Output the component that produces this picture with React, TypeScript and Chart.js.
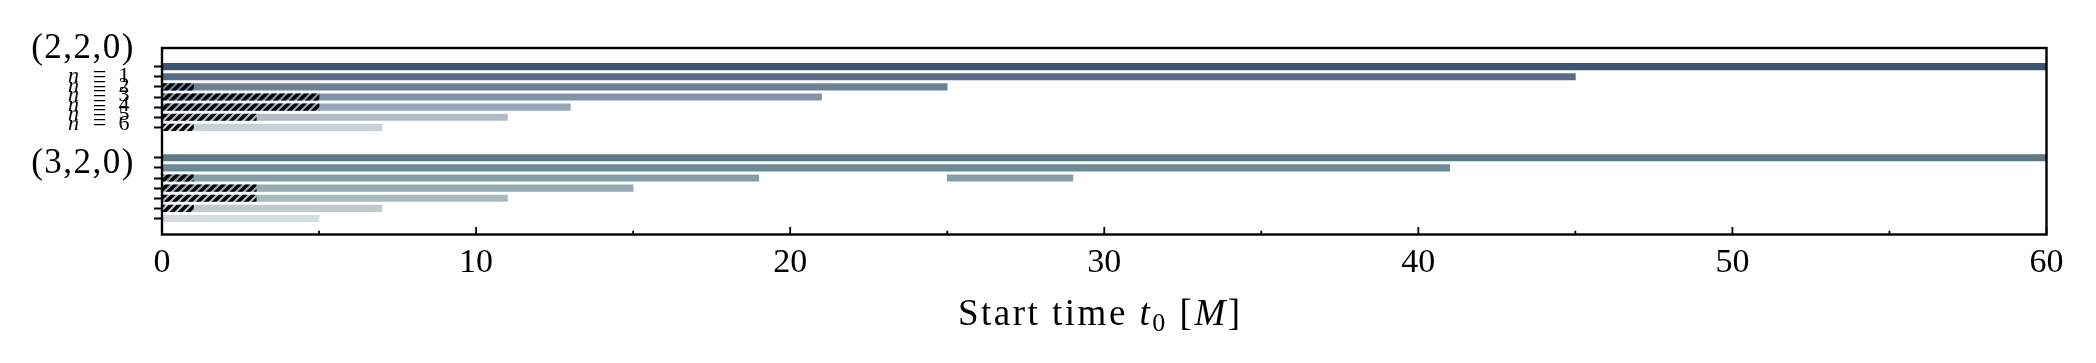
import React, { useEffect, useRef } from 'react';
import { Chart, registerables } from 'chart.js';

Chart.register(...registerables);

// ---- data ----
const GROUP_LABELS = ['(2,2,0)', '(3,2,0)'];
const GROUP_LABEL_Y = [-0.82, 10.54];
const N_LABELS = ['1', '2', '3', '4', '5', '6'];
const ROWS_220 = [0, 1, 2, 3, 4, 5, 6];
const ROWS_320 = [9, 10, 11, 12, 13, 14, 15];
const END_220 = [60, 45, 25, 21, 13, 11, 7];
const HATCH_220 = [0, 0, 1, 5, 5, 3, 1];
const END_320 = [60, 41, 19, 15, 11, 7, 5];
const HATCH_320 = [0, 0, 1, 3, 3, 1, 0];
const EXTRA_ROWS = [11];
const EXTRA_START = [25];
const EXTRA_END = [29];
const X_TICKS = [0, 10, 20, 30, 40, 50, 60];
const X_MINOR = [5, 15, 25, 35, 45, 55];

// ---- styles ----
const COLORS_220 = ['#3c556f', '#556c84', '#6c8197', '#8193a6', '#98a6b5', '#b1bbc6', '#c8d0d8'];
const COLORS_320 = ['#5b7a86', '#6c8a95', '#859da6', '#96abb1', '#a9babe', '#bfcacd', '#d3dddd'];
const FONT = 'Liberation Serif';

function makeHatch(): CanvasPattern | string {
  const c = document.createElement('canvas');
  c.width = 8;
  c.height = 8;
  const g = c.getContext('2d');
  if (!g) return '#000';
  g.strokeStyle = '#000';
  g.lineWidth = 3.4;
  g.lineCap = 'square';
  g.beginPath();
  g.moveTo(0, 8); g.lineTo(8, 0);
  g.moveTo(-4, 4); g.lineTo(4, -4);
  g.moveTo(4, 12); g.lineTo(12, 4);
  g.stroke();
  const p = g.createPattern(c, 'repeat');
  return p || '#000';
}

const decorPlugin = {
  id: 'decor',
  afterDraw(chart: any) {
    const { ctx, chartArea } = chart;
    const { left, right, top, bottom } = chartArea;
    const xs = chart.scales.x;
    const ys = chart.scales.y;
    ctx.save();
    // frame
    ctx.strokeStyle = '#000';
    ctx.lineWidth = 2.4;
    ctx.strokeRect(left, top, right - left, bottom - top);
    // inward x ticks
    ctx.lineWidth = 1.8;
    ctx.beginPath();
    X_TICKS.forEach((v) => {
      const px = xs.getPixelForValue(v);
      ctx.moveTo(px, bottom);
      ctx.lineTo(px, bottom - 7.5);
    });
    X_MINOR.forEach((v) => {
      const px = xs.getPixelForValue(v);
      ctx.moveTo(px, bottom);
      ctx.lineTo(px, bottom - 3.8);
    });
    ctx.stroke();

    // group labels
    ctx.fillStyle = '#000';
    ctx.textBaseline = 'alphabetic';
    ctx.textAlign = 'right';
    ctx.font = `35px "${FONT}"`;
    (ctx as any).letterSpacing = '1.5px';
    GROUP_LABELS.forEach((t, i) => {
      ctx.fillText(t, left - 27, ys.getPixelForValue(GROUP_LABEL_Y[i]));
    });
    (ctx as any).letterSpacing = '0px';

    // n = k labels
    const base0 = ys.getPixelForValue(1.52);
    const step = ys.getPixelForValue(1.52 + 0.949) - base0;
    N_LABELS.forEach((k, i) => {
      const by = base0 + step * i;
      ctx.textAlign = 'left';
      ctx.font = `italic 22px "${FONT}"`;
      ctx.fillText('n', left - 94, by);
      ctx.textAlign = 'center';
      ctx.font = `24px "${FONT}"`;
      ctx.fillText('=', left - 62.5, by);
      ctx.font = `22px "${FONT}"`;
      ctx.fillText(k, left - 38, by);
    });

    // x axis title
    const segs = [
      { t: 'Start time ', f: `37px "${FONT}"`, dy: 0 },
      { t: 't', f: `italic 37px "${FONT}"`, dy: 0 },
      { t: '0', f: `26px "${FONT}"`, dy: 6 },
      { t: ' [', f: `37px "${FONT}"`, dy: 0 },
      { t: 'M', f: `italic 37px "${FONT}"`, dy: 0 },
      { t: ']', f: `37px "${FONT}"`, dy: 0 },
    ];
    (ctx as any).letterSpacing = '2.5px';
    let total = 0;
    const widths = segs.map((s) => {
      ctx.font = s.f;
      const w = ctx.measureText(s.t).width;
      total += w;
      return w;
    });
    let x = (left + right) / 2 - 4 - total / 2;
    const by = bottom + 90.5;
    ctx.textAlign = 'left';
    segs.forEach((s, i) => {
      ctx.font = s.f;
      ctx.fillText(s.t, x, by + s.dy);
      x += widths[i];
    });
    (ctx as any).letterSpacing = '0px';
    ctx.restore();
  },
};

export default function App() {
  const ref = useRef<HTMLCanvasElement | null>(null);

  useEffect(() => {
    if (!ref.current) return;
    const hatch = makeHatch();

    const runData: any[] = [];
    const runColors: string[] = [];
    ROWS_220.forEach((r, i) => {
      runData.push({ y: r, x: [0, END_220[i]] });
      runColors.push(COLORS_220[i]);
    });
    ROWS_320.forEach((r, i) => {
      runData.push({ y: r, x: [0, END_320[i]] });
      runColors.push(COLORS_320[i]);
    });
    EXTRA_ROWS.forEach((r, i) => {
      runData.push({ y: r, x: [EXTRA_START[i], EXTRA_END[i]] });
      runColors.push(COLORS_320[ROWS_320.indexOf(r)]);
    });

    const hatchData: any[] = [];
    ROWS_220.forEach((r, i) => {
      if (HATCH_220[i] > 0) hatchData.push({ y: r, x: [0, HATCH_220[i]] });
    });
    ROWS_320.forEach((r, i) => {
      if (HATCH_320[i] > 0) hatchData.push({ y: r, x: [0, HATCH_320[i]] });
    });

    Chart.defaults.font.family = FONT;
    const chart = new Chart(ref.current, {
      type: 'bar',
      data: {
        datasets: [
          { label: 'hatch', data: hatchData, backgroundColor: hatch as any, borderWidth: 0, order: 0 } as any,
          { label: 'runs', data: runData, backgroundColor: runColors, borderWidth: 0, order: 1 } as any,
        ],
      },
      options: {
        indexAxis: 'y',
        responsive: false,
        animation: false,
        layout: { padding: { left: 0, right: 49.5, top: 48, bottom: 0 } },
        plugins: { legend: { display: false }, tooltip: { enabled: false } },
        datasets: { bar: { grouped: false, barThickness: 6.4, maxBarThickness: 6.4 } } as any,
        scales: {
          x: {
            type: 'linear',
            position: 'bottom',
            min: 0,
            max: 60,
            offset: false,
            afterBuildTicks: (s: any) => {
              s.ticks = X_TICKS.map((v) => ({ value: v }));
            },
            afterFit: (s: any) => {
              s.height = 128.5;
            },
            grid: { display: false, drawTicks: false, offset: false },
            border: { display: false },
            ticks: {
              font: { family: FONT, size: 34 },
              color: '#000',
              padding: 8,
              maxRotation: 0,
              autoSkip: false,
            },
          },
          y: {
            type: 'linear',
            position: 'left',
            min: -1.84,
            max: 16.58,
            reverse: true,
            offset: false,
            afterBuildTicks: (s: any) => {
              s.ticks = [...ROWS_220, ...ROWS_320].map((v) => ({ value: v }));
            },
            afterFit: (s: any) => {
              s.width = 162;
            },
            grid: {
              display: true,
              offset: false,
              drawOnChartArea: false,
              drawTicks: true,
              tickLength: 8,
              tickWidth: 2,
              tickColor: '#000',
            },
            border: { display: false },
            ticks: { display: false },
          },
        },
      } as any,
      plugins: [decorPlugin],
    });
    return () => chart.destroy();
  }, []);

  return (
    <div style={{ position: 'fixed', left: 0, top: 0, width: 2096, height: 363, background: '#fff' }}>
      <canvas ref={ref} width={2096} height={363} style={{ display: 'block' }} />
    </div>
  );
}
